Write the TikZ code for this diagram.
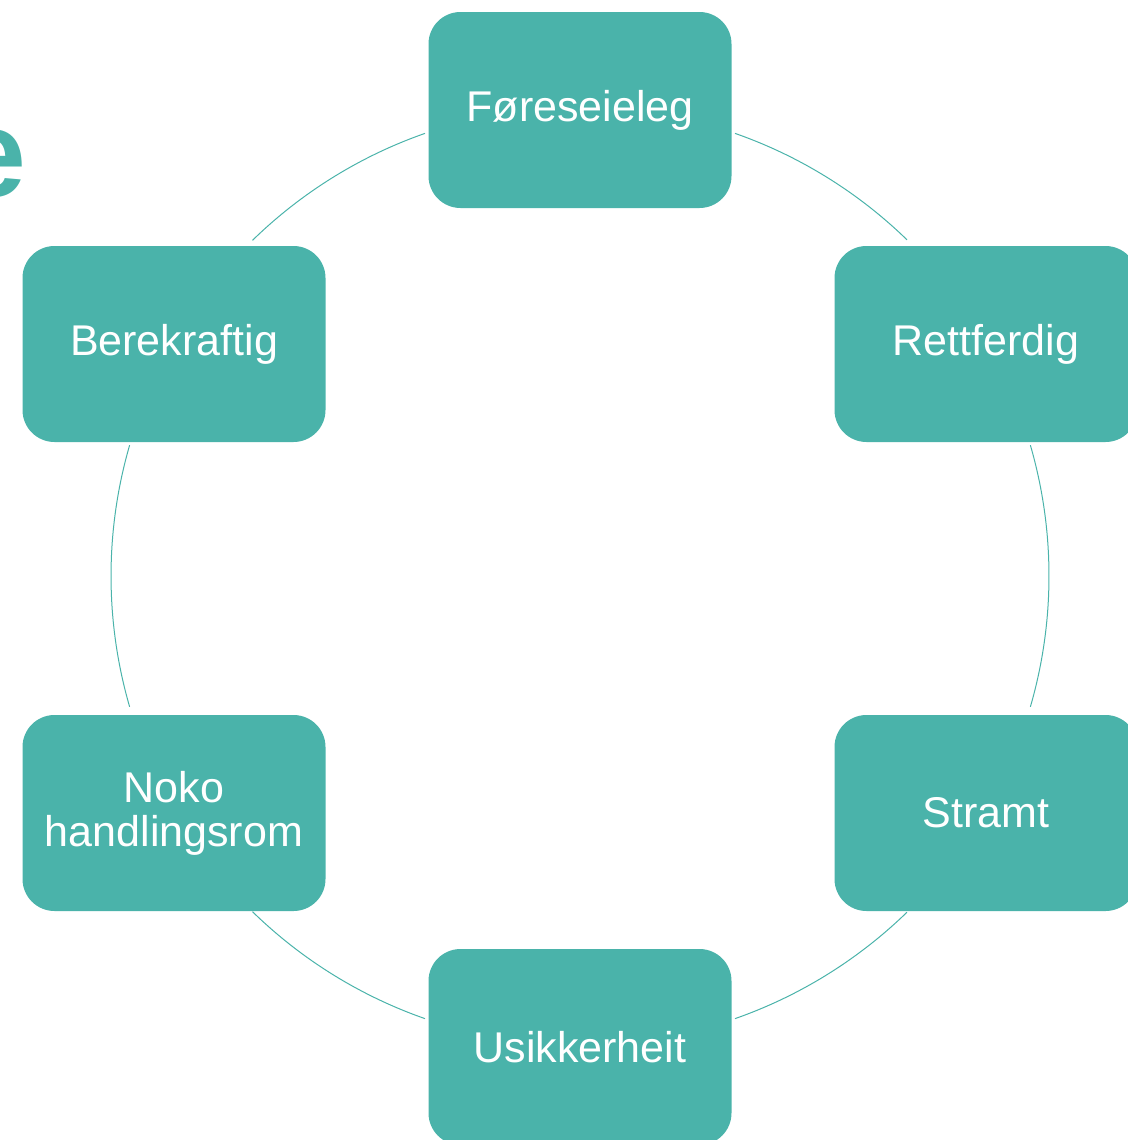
\documentclass[tikz,border=0pt]{standalone}
\usepackage{fontspec}
\setmainfont{Liberation Sans}
\usetikzlibrary{calc}
\definecolor{teal}{RGB}{74,179,170}

\begin{document}
\begin{tikzpicture}[x=0.5pt,y=0.5pt,
    box/.style={fill=teal,draw=none,rounded corners=16pt,minimum width=151.5pt,
      minimum height=98pt,text=white,align=center,font=\fontsize{21.5}{22}\selectfont},
    ring/.style={draw=teal,line width=0.5pt}]
    \useasboundingbox (0,0) rectangle (1128,-1140);
    \clip (0,0) rectangle (1128,-1140);
    \coordinate (o) at (580,-576);
    % ring pieces between the boxes
    \draw[ring] ($(o)+(70.7:469)$) arc[start angle=70.7,end angle=45.8,radius=469];
    \draw[ring] ($(o)+(16.2:469)$) arc[start angle=16.2,end angle=-16.2,radius=469];
    \draw[ring] ($(o)+(-45.8:469)$) arc[start angle=-45.8,end angle=-70.7,radius=469];
    \draw[ring] ($(o)+(-109.3:469)$) arc[start angle=-109.3,end angle=-134.3,radius=469];
    \draw[ring] ($(o)+(-163.8:469)$) arc[start angle=-163.8,end angle=-196.2,radius=469];
    \draw[ring] ($(o)+(134.3:469)$) arc[start angle=134.3,end angle=109.3,radius=469];
    \node[box] (fore) at (580,-110) {Føreseieleg};
    \node[box] (rett) at (986,-344) {Rettferdig};
    \node[box] (stramt) at (986,-813) {Stramt};
    \node[box] (usikk) at (580,-1047) {Usikkerheit};
    \node[box] (noko) at (174,-813) {Noko\\handlingsrom};
    \node[box] (bere) at (174,-344) {Berekraftig};
    % title letter cut at the left edge
    \node[anchor=base east,inner sep=0pt,text=teal,font=\fontsize{62}{62}\selectfont\bfseries] (tittel) at (26.5,-196) {e};
\end{tikzpicture}
\end{document}
